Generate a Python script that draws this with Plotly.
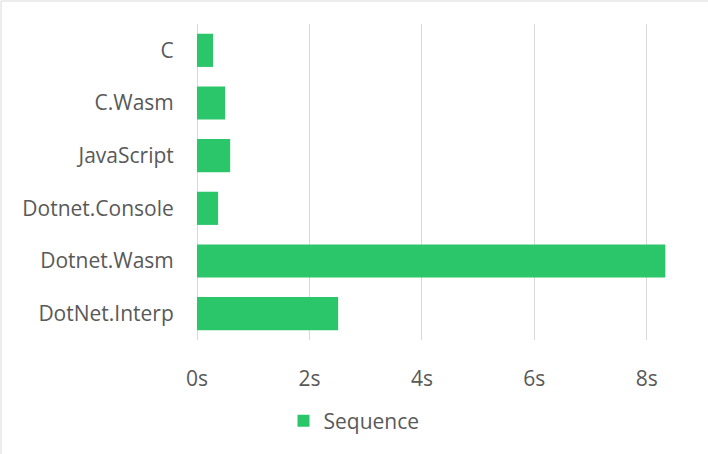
import plotly.graph_objects as go

categories = ["C", "C.Wasm", "JavaScript", "Dotnet.Console", "Dotnet.Wasm", "DotNet.Interp"]
sequence_seconds = [0.285, 0.50, 0.59, 0.375, 8.33, 2.51]
series_name = "Sequence"

W, H = 708, 454
L, R, T, B = 197, 5, 24, 114
pw = W - L - R
ph = H - T - B

fig = go.Figure()
fig.add_trace(go.Bar(
    y=categories, x=sequence_seconds, orientation="h", name=series_name,
    marker=dict(color="#2CC66A", line=dict(width=0)),
    showlegend=True,
))

font_family = "'Open Sans', sans-serif"
fs = 21
fig.update_layout(
    width=W, height=H,
    margin=dict(l=L, r=R, t=T, b=B, pad=0, autoexpand=False),
    paper_bgcolor="white", plot_bgcolor="white",
    bargap=0.37,
    font=dict(family=font_family, size=fs, color="#595959"),
    xaxis=dict(
        range=[0, 9], dtick=2, tick0=0, ticksuffix="s",
        showgrid=True, gridcolor="#D9D9D9", gridwidth=1,
        zeroline=True, zerolinecolor="#D9D9D9", zerolinewidth=1,
        showline=False, ticks="outside", ticklen=20, tickcolor="rgba(0,0,0,0)",
        tickfont=dict(size=fs, color="#595959"), fixedrange=True,
    ),
    yaxis=dict(
        categoryorder="array", categoryarray=categories[::-1],
        autorange=True, showgrid=False, zeroline=False, showline=False,
        ticks="outside", ticklen=18, tickcolor="rgba(0,0,0,0)",
        tickfont=dict(size=fs, color="#595959"),
    ),
    legend=dict(
        orientation="h", x=(354 - L) / pw, xanchor="center",
        y=(T + ph - 421) / ph, yanchor="middle",
        font=dict(size=fs, color="#595959"),
        itemwidth=30,
    ),
)

# chart area border (top and left edges visible)
fig.add_shape(type="line", xref="paper", yref="paper",
              x0=(1 - L) / pw, x1=(W - L) / pw, y0=(H - 1 - B) / ph, y1=(H - 1 - B) / ph,
              line=dict(color="#D9D9D9", width=1))
fig.add_shape(type="line", xref="paper", yref="paper",
              x0=(1 - L) / pw, x1=(1 - L) / pw, y0=(H - 1 - B) / ph, y1=-B / ph,
              line=dict(color="#D9D9D9", width=1))

fig.write_html("out.html", config={"displayModeBar": False},
               post_script="document.body.style.margin='0';document.body.style.padding='0';")
